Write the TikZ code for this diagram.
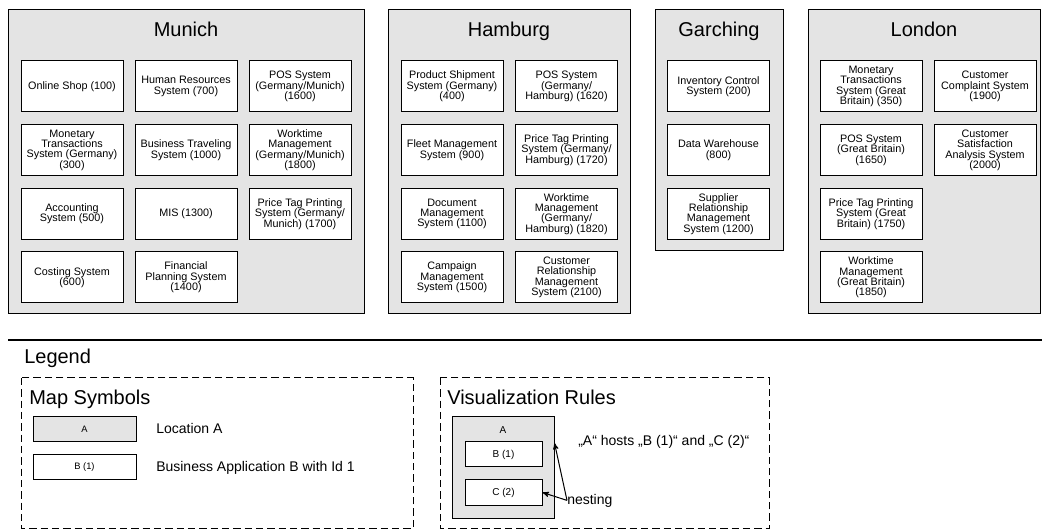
\documentclass[tikz,border=0pt]{standalone}
\usepackage{fontspec}
\setmainfont{Liberation Sans}
\usepackage{tikz}
\usetikzlibrary{arrows}
\usetikzlibrary{positioning}
\definecolor{locgray}{HTML}{E4E4E4}
\tikzset{
  location/.style={
    rectangle,
    draw=black, line width=0.75pt,
    fill=locgray,
    inner sep=0pt,
  },
  app/.style={
    rectangle,
    draw=black, line width=0.75pt,
    fill=white,
    minimum width=76.5pt,
    minimum height=38.25pt,
    inner sep=1pt,
    align=center,
    font=\fontsize{8.1}{7.8}\selectfont,
  },
  loctitle/.style={font=\fontsize{15}{18}\selectfont, anchor=base, inner sep=0pt},
  legendtitle/.style={font=\fontsize{15}{18}\selectfont, anchor=base west, inner sep=0pt},
  legendtext/.style={font=\fontsize{10.5}{12}\selectfont, anchor=base west, inner sep=0pt},
  legendframe/.style={draw=black, line width=0.75pt, dash pattern=on 5.5pt off 3pt},
}

\begin{document}
\begin{tikzpicture}[x=0.75pt,y=-0.75pt,node distance=47.75pt,>=stealth']
  \useasboundingbox (0,0) rectangle (1042,530);

  % locations
  \node[location, minimum width=267pt, minimum height=228pt] (munich) at (186,162) {};
  \node[location, minimum width=181.5pt, minimum height=228pt] (hamburg) at (509,162) {};
  \node[location, minimum width=96pt, minimum height=180.75pt] (garching) at (719,130.5) {};
  \node[location, minimum width=174pt, minimum height=228pt] (london) at (924,162) {};
  \node[loctitle] (munichT) at (186,36.8) {Munich};
  \node[loctitle] (hamburgT) at (509,36.8) {Hamburg};
  \node[loctitle] (garchingT) at (719,36.8) {Garching};
  \node[loctitle] (londonT) at (924,36.8) {London};

  % Munich
  \node[app] (shop) at (72,86.5) {Online Shop (100)};
  \node[app, right of=shop, node distance=85.5pt] (hr) {Human Resources\\System (700)};
  \node[app, right of=hr, node distance=85.5pt] (posMuc) {POS System\\(Germany/Munich)\\(1600)};
  \node[app, below of=shop] (moneyDe) {Monetary\\Transactions\\System (Germany)\\(300)};
  \node[app, below of=hr] (travel) {Business Traveling\\System (1000)};
  \node[app, below of=posMuc] (timeMuc) {Worktime\\Management\\(Germany/Munich)\\(1800)};
  \node[app, below of=moneyDe] (accounting) {Accounting\\System (500)};
  \node[app, below of=travel] (mis) {MIS (1300)};
  \node[app, below of=timeMuc] (priceMuc) {Price Tag Printing\\System (Germany/\\Munich) (1700)};
  \node[app, below of=accounting] (costing) {Costing System\\(600)};
  \node[app, below of=mis] (planning) {Financial\\Planning System\\(1400)};

  % Hamburg
  \node[app] (shipment) at (452,86.5) {Product Shipment\\System (Germany)\\(400)};
  \node[app, right of=shipment, node distance=85.875pt] (posHam) {POS System\\(Germany/\\Hamburg) (1620)};
  \node[app, below of=shipment] (fleet) {Fleet Management\\System (900)};
  \node[app, below of=posHam] (priceHam) {Price Tag Printing\\System (Germany/\\Hamburg) (1720)};
  \node[app, below of=fleet] (document) {Document\\Management\\System (1100)};
  \node[app, below of=priceHam] (timeHam) {Worktime\\Management\\(Germany/\\Hamburg) (1820)};
  \node[app, below of=document] (campaign) {Campaign\\Management\\System (1500)};
  \node[app, below of=timeHam] (crm) {Customer\\Relationship\\Management\\System (2100)};

  % Garching
  \node[app] (inventory) at (718.5,86.5) {Inventory Control\\System (200)};
  \node[app, below of=inventory] (warehouse) {Data Warehouse\\(800)};
  \node[app, below of=warehouse] (supplier) {Supplier\\Relationship\\Management\\System (1200)};

  % London
  \node[app] (moneyGb) at (871,86.5) {Monetary\\Transactions\\System (Great\\Britain) (350)};
  \node[app, right of=moneyGb, node distance=85.5pt] (complaint) {Customer\\Complaint System\\(1900)};
  \node[app, below of=moneyGb] (posGb) {POS System\\(Great Britain)\\(1650)};
  \node[app, below of=complaint] (satisfaction) {Customer\\Satisfaction\\Analysis System\\(2000)};
  \node[app, below of=posGb] (priceGb) {Price Tag Printing\\System (Great\\Britain) (1750)};
  \node[app, below of=priceGb] (timeGb) {Worktime\\Management\\(Great Britain)\\(1850)};

  % legend
  \draw[line width=1pt] (8,340) -- (1042,340);
  \node[legendtitle] (legendT) at (24,364) {Legend};

  \draw[legendframe] (21,378) rectangle (413,528.5);
  \node[legendtitle] (symbolsT) at (29,405) {Map Symbols};
  \node[location, minimum width=77.25pt, minimum height=18.75pt,
        font=\fontsize{7}{8}\selectfont] (symLoc) at (84.5,429.5) {A};
  \node[app, minimum width=77.25pt, minimum height=18.75pt,
        font=\fontsize{7}{8}\selectfont] (symApp) at (84.5,467) {B (1)};
  \node[legendtext] (symLocT) at (156,433.3) {Location A};
  \node[legendtext] (symAppT) at (156,471.7) {Business Application B with Id 1};

  \draw[legendframe] (440,378) rectangle (769,528.5);
  \node[legendtitle] (rulesT) at (447,405) {Visualization Rules};
  \node[location, minimum width=76.5pt, minimum height=75.75pt] (ruleA) at (503,467.5) {};
  \node[font=\fontsize{7.5}{8}\selectfont] (ruleAT) at (503,430) {A};
  \node[app, minimum width=57.75pt, minimum height=18.75pt,
        font=\fontsize{7.5}{8}\selectfont] (ruleB) at (503.5,454.5) {B (1)};
  \node[app, minimum width=57.75pt, minimum height=18.75pt,
        font=\fontsize{7.5}{8}\selectfont] (ruleC) at (503.5,492.5) {C (2)};
  \node[legendtext] (hostsT) at (578,446) {„A“ hosts „B (1)“ and „C (2)“};
  \node[legendtext] (nesting) at (567,504) {nesting};
  \coordinate (hostPt) at (554.5,443);

  \path (nesting.west) edge[->, line width=0.75pt] (hostPt);
  \path (nesting.west) edge[->, line width=0.75pt] (ruleC.east);
\end{tikzpicture}
\end{document}
